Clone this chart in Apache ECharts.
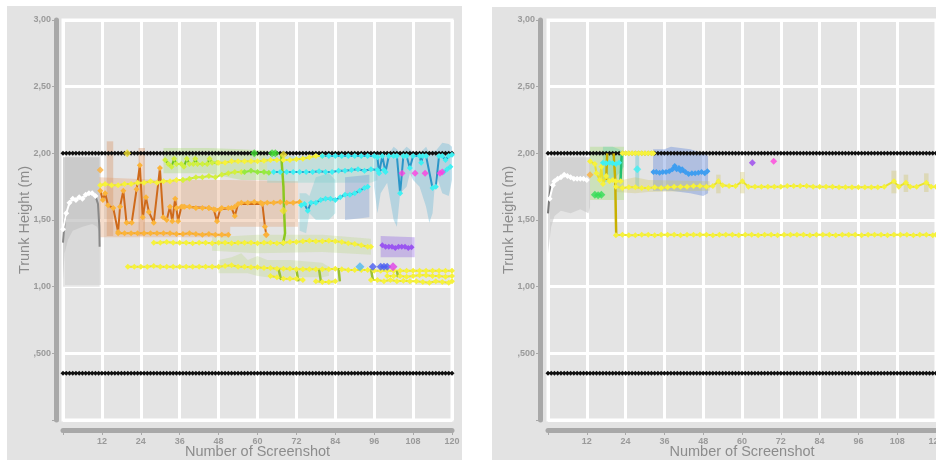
<!DOCTYPE html>
<html><head><meta charset="utf-8">
<script src="https://cdn.jsdelivr.net/npm/echarts@6/dist/echarts.min.js"></script>
<style>html,body{margin:0;padding:0;background:#fff}#c{width:936px;height:460px}</style>
</head><body><div id="c"></div>
<script>
// ---------- axis ticks ----------
const xTickValues = [12,24,36,48,60,72,84,96,108,120];
const xTickLabels = ['12','24','36','48','60','72','84','96','108','120'];
const yTickValues = [0.5,1,1.5,2,2.5,3];
const yTickLabels = [',500','1,00','1,50','2,00','2,50','3,00'];

// ---------- reference lines (x = screenshot index 0..120) ----------
const blackTopValues = [
2,2,2,2,2,2,2,2,2,2, 2,2,2,2,2,2,2,2,2,2, 2,2,2,2,2,2,2,2,2,2,
2,2,2,2,2,2,2,2,2,2, 2,2,2,2,2,2,2,2,2,2, 2,2,2,2,2,2,2,2,2,2,
2,2,2,2,2,2,2,2,2,2, 2,2,2,2,2,2,2,2,2,2, 2,2,2,2,2,2,2,2,2,2,
2,2,2,2,2,2,2,2,2,2, 2,2,2,2,2,2,2,2,2,2, 2,2,2,2,2,2,2,2,2,2, 2];
const blackLowValues = [
0.35,0.35,0.35,0.35,0.35,0.35,0.35,0.35,0.35,0.35, 0.35,0.35,0.35,0.35,0.35,0.35,0.35,0.35,0.35,0.35,
0.35,0.35,0.35,0.35,0.35,0.35,0.35,0.35,0.35,0.35, 0.35,0.35,0.35,0.35,0.35,0.35,0.35,0.35,0.35,0.35,
0.35,0.35,0.35,0.35,0.35,0.35,0.35,0.35,0.35,0.35, 0.35,0.35,0.35,0.35,0.35,0.35,0.35,0.35,0.35,0.35,
0.35,0.35,0.35,0.35,0.35,0.35,0.35,0.35,0.35,0.35, 0.35,0.35,0.35,0.35,0.35,0.35,0.35,0.35,0.35,0.35,
0.35,0.35,0.35,0.35,0.35,0.35,0.35,0.35,0.35,0.35, 0.35,0.35,0.35,0.35,0.35,0.35,0.35,0.35,0.35,0.35,
0.35,0.35,0.35,0.35,0.35,0.35,0.35,0.35,0.35,0.35, 0.35,0.35,0.35,0.35,0.35,0.35,0.35,0.35,0.35,0.35, 0.35];

// ---------- LEFT panel: bands [n, low, high] ----------
const L_grayBandLight = [[0,1.0,1.97],[11.3,1.0,1.97]];
const L_grayBandDark = [[0,1.05,1.97],[0.5,1.25,1.97],[1.5,1.35,1.97],[3,1.42,1.97],[6,1.45,1.97],[9,1.47,1.97],[10.5,1.45,1.97],[11.3,1.40,1.97]];
const L_peachBand = [[11.2,1.37,1.82],[30,1.37,1.80],[51.5,1.37,1.80],[51.6,1.45,1.80],[72.5,1.45,1.79]];
const L_peachSpike1 = [[13.5,1.38,2.09],[15.5,1.38,2.09]];
const L_peachSpike2 = [[23.3,1.38,2.04],[25.3,1.38,2.04]];
const L_greenBand = [[31,1.85,2.04],[45,1.85,2.04],[55,1.80,2.03],[63,1.80,2.02]];
const L_tealBand = [[63,1.78,1.98],[95,1.78,1.98],[97,1.80,1.96]];
const L_tealBand2 = [[73,1.42,1.70],[75,1.40,1.70],[76,1.55,1.68],[78,1.50,1.82],[82,1.50,1.85],[84,1.55,1.80]];
const L_steelBand = [[87,1.50,1.82],[94.5,1.52,1.84]];
const L_blueBand = [[96,1.75,2.0],[97,1.55,2.02],[98,1.70,2.0],[100,1.78,1.98],[102,1.50,2.05],[103,1.45,2.03],[104,1.70,2.0],[106,1.75,2.05],[107,1.85,2.03],[108,1.80,2.0],[110,1.75,2.0],[112,1.60,2.05],[113,1.48,2.0],[114,1.55,2.02],[115,1.85,2.02],[117,1.70,2.08],[119,1.68,2.07],[120,1.80,2.05]];
const L_band133 = [[46,1.27,1.37],[60,1.25,1.39],[80,1.26,1.39],[95,1.24,1.36]];
const L_band115 = [[48,1.10,1.20],[52,1.10,1.22],[55,1.10,1.25],[57,1.10,1.20],[60,1.08,1.23],[63,1.07,1.20],[70,1.07,1.20],[80,1.07,1.18],[82,1.08,1.15]];
const L_purpleBand = [[98,1.22,1.38],[108.5,1.22,1.37]];

// ---------- LEFT panel: lines [n, value] ----------
const L_white = [[0,1.43],[1,1.55],[2,1.63],[3,1.66],[4,1.65],[5,1.67],[6,1.66],[7,1.69],[8,1.70],[9,1.70],[10,1.68]];
const L_grayStart = [[0,1.33],[0.5,1.49],[1,1.55]];
const L_grayEnd = [[10,1.68],[10.8,1.62],[11.2,1.45],[11.3,1.30]];
const L_orangeZig = [[11.5,1.72],[12.3,1.65],[13,1.70],[13.9,1.61],[15.5,1.59],[17,1.41],[17.6,1.60],[18.6,1.72],[19.6,1.48],[21.2,1.48],[22.7,1.73],[23.7,1.91],[24.6,1.52],[25.6,1.67],[26.5,1.56],[28,1.48],[29.9,1.89],[30.9,1.52],[32,1.50],[33,1.60],[33.7,1.49],[34.6,1.66],[35.5,1.49],[36.5,1.60],[37.5,1.60],[45,1.59],[46.5,1.58],[47.5,1.49],[48.5,1.58],[52,1.59],[53,1.53],[54,1.62],[61.5,1.62],[62.3,1.45],[62.7,1.39]];
const L_amber16 = [[35,1.59],[37,1.60],[39,1.60],[41,1.59],[43,1.59],[45,1.59],[47,1.575],[49,1.59],[51,1.59],[53,1.60],[55,1.63],[57,1.63],[59,1.635],[61,1.63],[63,1.63],[65,1.63],[67,1.635],[69,1.63],[71,1.63],[73,1.635]];
const L_amberDots = [[11.5,1.875],[62.7,1.39]];
const L_amber140 = [[17,1.40],[19,1.40],[21,1.40],[23,1.40],[25,1.40],[27,1.40],[29,1.40],[31,1.40],[33,1.40],[35,1.395],[37,1.395],[39,1.40],[41,1.395],[43,1.39],[45,1.395],[47,1.39],[49,1.39],[51,1.39]];
const L_yellow177 = [[11.5,1.76],[13,1.77],[15,1.76],[17,1.76],[19,1.77],[21,1.77],[23,1.78],[25,1.78],[27,1.79],[29,1.78],[31,1.79],[33,1.79],[35,1.80],[37,1.80]];
const L_ygreen182 = [[37,1.80],[39,1.81],[41,1.82],[43,1.82],[45,1.83],[47,1.82],[49,1.84],[51,1.85],[53,1.86],[55,1.86]];
const L_green186 = [[56,1.86],[58,1.87],[60,1.86],[62,1.86],[63.5,1.855]];
const L_cyan186 = [[65,1.86],[67,1.86],[69,1.86],[71,1.86],[73,1.86],[75,1.86],[77,1.86],[79,1.865],[81,1.86],[83,1.86],[85,1.87],[87,1.87],[89,1.875],[91,1.88],[93,1.87],[95,1.88],[97,1.875],[99,1.875]];
const L_cyanLow = [[73.5,1.61],[74.5,1.62],[75.5,1.57],[76.5,1.63],[78,1.63],[79.5,1.65],[81,1.66],[82.5,1.66],[84,1.65],[85.5,1.67],[87,1.69],[88.5,1.69],[90,1.70],[91.5,1.72],[93,1.74],[94,1.75]];
const L_magenta = [[104.6,1.85],[108.6,1.85],[111.7,1.85],[116.3,1.85],[117,1.86]];
const L_cyanEnd = [[117.5,1.86],[118.5,1.88],[119.5,1.90]];
const L_topGreen = [[31.5,1.95],[32.5,1.92],[33.5,1.90],[34.3,1.96],[35,1.92],[36.5,1.92],[37.3,1.90],[38.2,1.96],[39,1.92],[40.2,1.92],[40.8,1.96],[41.5,1.92],[43,1.92],[44.5,1.92],[45.2,1.96],[46,1.93],[47.5,1.93]];
const L_topYellow = [[48,1.93],[50,1.93],[52,1.94],[54,1.94],[56,1.94],[58,1.94],[60,1.94],[62,1.945],[64,1.95],[66,1.95],[68,1.95],[70,1.95],[72,1.955],[74,1.96],[76,1.97],[78,1.98],[80,1.98]];
const L_greenDots = [[59,2.0],[64.5,2.0],[65.5,2.0]];
const L_yellowDots = [[19.8,2.0],[68,1.99],[68,1.57]];
const L_topCyan = [[80,1.98],[82,1.98],[84,1.98],[86,1.98],[88,1.98],[90,1.98],[92,1.98],[94,1.98],[96,1.98],[97,1.97],[97.5,1.85],[98.5,1.98],[99.5,1.86],[100.5,1.98],[102,1.98],[103,1.98],[104,1.70],[105,1.98],[106,1.98],[107,1.89],[108,1.98],[110,1.98],[110.5,1.93],[111,1.98],[112,1.98],[114,1.74],[115,1.75],[116,1.98],[117,1.98],[118,1.95],[119,1.98],[120,1.99]];
const L_greenVertical = [[67.3,1.99],[68,1.75],[68.2,1.57],[68.5,1.40],[67.8,1.31]];
const L_yellow133 = [[28,1.33],[30,1.33],[32,1.335],[34,1.33],[36,1.33],[38,1.33],[40,1.325],[42,1.33],[44,1.33],[46,1.325],[48,1.33],[50,1.33],[52,1.325],[54,1.33],[56,1.33],[58,1.33],[60,1.325],[62,1.33],[64,1.33],[66,1.325],[68,1.33],[70,1.335],[72,1.335],[74,1.34],[76,1.345],[78,1.34],[80,1.34],[82,1.345],[84,1.34],[86,1.335],[88,1.325],[90,1.32],[92,1.31],[94,1.30],[95,1.30]];
const L_purple130 = [[98.5,1.31],[99.5,1.30],[100.5,1.30],[101.5,1.30],[102.5,1.29],[103.5,1.30],[104.5,1.30],[105.5,1.30],[106.5,1.29],[107.5,1.295]];
const L_yellow115 = [[20,1.15],[22,1.15],[24,1.15],[26,1.15],[28,1.155],[30,1.15],[32,1.15],[34,1.15],[36,1.15],[38,1.15],[40,1.15],[42,1.15],[44,1.15],[46,1.15],[48,1.15],[50,1.155],[52,1.16],[54,1.15],[56,1.15],[58,1.145],[60,1.145],[62,1.14],[64,1.14],[66,1.135],[68,1.135],[70,1.135],[72,1.13],[74,1.13],[76,1.13],[78,1.13],[80,1.13],[82,1.13],[84,1.135],[86,1.13],[88,1.125],[90,1.125],[92,1.125],[94,1.125],[96,1.12],[98,1.12],[100,1.12],[102,1.12],[104,1.12],[106,1.12],[108,1.12],[110,1.12],[112,1.12],[114,1.12],[116,1.12],[118,1.12],[120,1.12]];
const L_yellowLowA = [[64,1.08],[66,1.07],[68,1.06],[70,1.06],[72,1.06],[74,1.05]];
const L_yellowLowB = [[78,1.04],[80,1.035],[82,1.035],[84,1.04]];
const L_yellowLowC = [[95,1.05],[97,1.05],[99,1.04],[101,1.05],[103,1.04],[105,1.045],[107,1.04],[109,1.04],[111,1.035],[113,1.03],[115,1.04],[117,1.035],[119,1.03],[120,1.04]];
const L_yellowLowD = [[100,1.08],[102,1.08],[104,1.08],[106,1.075],[108,1.08],[110,1.085],[112,1.085],[114,1.08],[116,1.08],[118,1.075],[120,1.08]];
const L_oliveConnectors = [
  [[66.5,1.13],[67.3,1.05]], [[72,1.13],[72.6,1.04]], [[79,1.13],[79.6,1.03]],
  [[85,1.14],[85.4,1.04]], [[95,1.13],[95.6,1.05]], [[103,1.12],[103.4,1.07]]];
const L_dotLightBlue = [[91.6,1.15]];
const L_dotBlue = [[95.6,1.15],[98,1.15],[99,1.15],[100,1.15]];
const L_dotMagenta = [[101.8,1.15]];

// ---------- RIGHT panel ----------
const R_grayBand = [[0,1.25,1.97],[0.5,1.35,1.97],[1,1.45,1.97],[2,1.53,1.97],[4,1.57,1.97],[7,1.55,1.97],[10,1.58,1.97],[12.5,1.55,1.97],[13,1.60,1.97]];
const R_greenBand = [[13,1.65,2.05],[23.5,1.65,2.05]];
const R_tealBand = [[17,1.78,2.05],[20,1.80,2.05],[22,1.85,2.03],[23.5,1.90,2.0]];
const R_cyanSpike = [[27,1.75,2.0],[28.2,1.75,2.0]];
const R_blueBand = [[32.5,1.72,2.03],[36,1.72,2.03],[38,1.72,2.05],[44,1.70,2.03],[48,1.68,2.0],[49.5,1.70,1.98]];
const R_oliveBand = [[21,1.71,1.79],[27,1.70,1.82],[31,1.71,1.80],[50,1.72,1.79]];
const R_spike1 = [[52,1.70,1.84],[53.4,1.70,1.84]];
const R_spike2 = [[59.4,1.70,1.86],[60.8,1.70,1.86]];
const R_spike3 = [[106.2,1.70,1.87],[107.8,1.70,1.87]];
const R_spike4 = [[110,1.71,1.84],[111.4,1.71,1.84]];
const R_spike5 = [[116.3,1.71,1.85],[117.7,1.71,1.85]];

const R_white = [[0.5,1.66],[1.5,1.76],[2,1.79],[3,1.81],[4,1.82],[5,1.84],[6,1.83],[7,1.82],[8,1.81],[9,1.81],[10,1.81],[11,1.81],[12,1.80]];
const R_grayStart = [[0,1.55],[0.3,1.64],[0.8,1.76]];
const R_yellowPre = [[13,1.94],[14.5,1.92],[15,1.85],[16,1.80],[16.5,1.90],[17,1.77],[18,1.83],[19,1.79],[20,1.80],[21,1.79],[22.5,1.79]];
const R_amberDot = [[13,1.84]];
const R_oliveA = [[18.3,2.0],[18.0,1.80]];
const R_oliveB = [[20.3,2.0],[20.8,1.80],[21,1.5],[21.1,1.39]];
const R_greenLine = [[22.8,2.0],[22.4,1.78]];
const R_cyan = [[17,1.93],[18,1.925],[19,1.93],[20,1.925],[21,1.92],[22,1.93]];
const R_cyanDot = [[27.6,1.88]];
const R_greenDots = [[14.5,1.69],[15.5,1.685],[16.5,1.69]];
const R_yellowTop = [[23,2.0],[24,2.0],[25,2.0],[26,2.0],[27,2.0],[28,2.0],[29,2.0],[30,2.0],[31,2.0],[32,2.0],[32.6,2.0]];
const R_blue = [[32.6,1.86],[33.5,1.86],[34.5,1.855],[35.5,1.86],[36.5,1.86],[37.5,1.865],[38.5,1.88],[39.2,1.905],[39.8,1.88],[40.5,1.89],[41,1.87],[41.5,1.88],[42.5,1.86],[43.5,1.845],[44.5,1.85],[45.5,1.85],[46.5,1.855],[47.5,1.86],[48.5,1.85],[49.3,1.865]];
const R_yellow175 = [[21,1.75],[23,1.74],[25,1.745],[27,1.745],[29,1.74],[31,1.74],[33,1.745],[35,1.74],[37,1.745],[39,1.75],[41,1.75],[43,1.75],[45,1.755],[47,1.755],[49,1.75],[51,1.755],[52.7,1.79],[54,1.76],[56,1.755],[58,1.755],[60.1,1.79],[62,1.75],[64,1.75],[66,1.75],[68,1.75],[70,1.75],[72,1.75],[74,1.755],[76,1.755],[78,1.755],[80,1.755],[82,1.75],[84,1.75],[86,1.75],[88,1.75],[90,1.745],[92,1.745],[94,1.745],[96,1.745],[98,1.745],[100,1.745],[102,1.745],[104,1.75],[107,1.79],[108.5,1.75],[110.7,1.78],[112,1.75],[114,1.75],[117,1.78],[118.5,1.75],[120,1.75]];
const R_yellow138 = [[21,1.385],[23,1.39],[25,1.385],[27,1.385],[29,1.39],[31,1.39],[33,1.385],[35,1.39],[37,1.39],[39,1.39],[41,1.385],[43,1.39],[45,1.39],[47,1.39],[49,1.39],[51,1.385],[53,1.39],[55,1.39],[57,1.39],[59,1.385],[61,1.39],[63,1.39],[65,1.385],[67,1.39],[69,1.39],[71,1.385],[73,1.39],[75,1.39],[77,1.39],[79,1.39],[81,1.385],[83,1.39],[85,1.39],[87,1.39],[89,1.385],[91,1.39],[93,1.39],[95,1.39],[97,1.385],[99,1.39],[101,1.39],[103,1.39],[105,1.385],[107,1.39],[109,1.39],[111,1.39],[113,1.385],[115,1.39],[117,1.39],[119,1.385],[120,1.39]];
const R_purpleDot = [[63.2,1.93]];
const R_magentaDot = [[69.8,1.94]];

// ---------- build ----------
const FONT = 'Liberation Sans';
function band(data, fill, g, z) {
  return { type: 'custom', xAxisIndex: g, yAxisIndex: g, data: data, silent: true, z: z || 1,
    clip: true,
    renderItem: function (params, api) {
      if (params.dataIndex !== 0) return null;
      const top = [], bot = [];
      for (const d of data) { top.push(api.coord([d[0], d[2]])); bot.unshift(api.coord([d[0], d[1]])); }
      return { type: 'polygon', shape: { points: top.concat(bot) }, style: { fill: fill } };
    } };
}
function line(data, lineColor, symColor, g, o) {
  o = o || {};
  return { type: 'line', xAxisIndex: g, yAxisIndex: g, data: data, silent: true,
    symbol: o.noSymbol ? 'none' : 'diamond', symbolSize: o.size || 6, showAllSymbol: true,
    lineStyle: { color: lineColor, width: o.width || 2 },
    itemStyle: { color: symColor }, z: o.z || 3 };
}
function dots(data, color, g, size) {
  return { type: 'scatter', xAxisIndex: g, yAxisIndex: g, data: data, silent: true,
    symbol: 'diamond', symbolSize: size || 7, itemStyle: { color: color }, z: 5 };
}
function idx(values) { return values.map((v, i) => [i, v]); }

const YEL = '#f6f23c', YELL = '#e9e22e';
const series = [];
for (const g of [0, 1]) {
  series.push(line(idx(blackTopValues), '#111', '#111', g, { size: 5, width: 1.5, z: 2 }));
  series.push(line(idx(blackLowValues), '#111', '#111', g, { size: 5, width: 1.5, z: 2 }));
}
// left bands
series.push(band(L_grayBandLight, 'rgba(205,205,205,0.5)', 0));
series.push(band(L_grayBandDark, 'rgba(180,180,180,0.4)', 0));
series.push(band(L_peachBand, 'rgba(228,165,120,0.38)', 0));
series.push(band(L_peachSpike1, 'rgba(215,140,90,0.35)', 0));
series.push(band(L_peachSpike2, 'rgba(215,140,90,0.35)', 0));
series.push(band(L_greenBand, 'rgba(165,220,110,0.35)', 0));
series.push(band(L_tealBand, 'rgba(120,210,200,0.30)', 0));
series.push(band(L_tealBand2, 'rgba(110,200,210,0.35)', 0));
series.push(band(L_steelBand, 'rgba(110,150,210,0.35)', 0));
series.push(band(L_blueBand, 'rgba(110,185,215,0.40)', 0));
series.push(band(L_band133, 'rgba(185,215,130,0.30)', 0));
series.push(band(L_band115, 'rgba(185,215,130,0.30)', 0));
series.push(band(L_purpleBand, 'rgba(150,110,225,0.40)', 0));
// left lines
series.push(line(L_grayStart, '#888', '#888', 0, { noSymbol: true }));
series.push(line(L_grayEnd, '#888', '#888', 0, { noSymbol: true }));
series.push(line(L_white, '#fff', '#fff', 0));
series.push(line(L_orangeZig, '#cf6a1a', '#fbb43a', 0));
series.push(line(L_amber140, '#f5a623', '#fbb43a', 0));
series.push(line(L_amber16, '#f5a623', '#fbb43a', 0));
series.push(dots(L_amberDots, '#fbb03b', 0, 7));
series.push(line(L_yellow177, YELL, YEL, 0));
series.push(line(L_ygreen182, '#c9e83a', '#d3f03e', 0));
series.push(line(L_green186, '#8fe03a', '#96ea40', 0));
series.push(line(L_cyan186, '#2a96c8', '#3ff0f2', 0));
series.push(line(L_cyanLow, '#2a96c8', '#3ff0f2', 0));
series.push(dots(L_magenta, '#ff3fe0', 0, 7));
series.push(line(L_cyanEnd, '#2a96c8', '#3ff0f2', 0));
series.push(line(L_topGreen, '#6cc420', '#d0f040', 0));
series.push(line(L_topYellow, YELL, YEL, 0));
series.push(line(L_topCyan, '#2a96c8', '#3ff0f2', 0, { z: 3 }));
series.push(line(L_greenVertical, '#8cc820', '#8cc820', 0, { noSymbol: true, width: 2.5 }));
series.push(dots(L_greenDots, '#44dd33', 0, 8));
series.push(dots(L_yellowDots, '#f0e030', 0, 8));
series.push(line(L_yellow133, YELL, YEL, 0));
series.push(line(L_purple130, '#8a44e6', '#9a55f0', 0));
series.push(line(L_yellow115, YELL, YEL, 0));
series.push(line(L_yellowLowA, YELL, YEL, 0));
series.push(line(L_yellowLowB, YELL, YEL, 0));
series.push(line(L_yellowLowC, YELL, YEL, 0));
series.push(line(L_yellowLowD, YELL, YEL, 0));
for (const seg of L_oliveConnectors) series.push(line(seg, '#9ac030', '#9ac030', 0, { noSymbol: true, width: 2.5 }));
series.push(dots(L_dotLightBlue, '#4fb8f0', 0, 9));
series.push(dots(L_dotBlue, '#4a5cf0', 0, 8));
series.push(dots(L_dotMagenta, '#e040e8', 0, 9));
// right bands
series.push(band(R_grayBand, 'rgba(195,195,195,0.55)', 1));
series.push(band(R_greenBand, 'rgba(160,220,110,0.35)', 1));
series.push(band(R_tealBand, 'rgba(90,210,170,0.35)', 1));
series.push(band(R_cyanSpike, 'rgba(110,200,210,0.45)', 1));
series.push(band(R_blueBand, 'rgba(105,140,220,0.42)', 1));
series.push(band(R_oliveBand, 'rgba(205,195,90,0.30)', 1));
for (const s of [R_spike1, R_spike2, R_spike3, R_spike4, R_spike5]) series.push(band(s, 'rgba(205,195,100,0.35)', 1));
// right lines
series.push(line(R_grayStart, '#777', '#777', 1, { noSymbol: true }));
series.push(line(R_white, '#fff', '#fff', 1));
series.push(line(R_oliveA, '#c8b000', '#c8b000', 1, { noSymbol: true, width: 2.5 }));
series.push(line(R_oliveB, '#c8b000', '#c8b000', 1, { noSymbol: true, width: 2.5 }));
series.push(line(R_greenLine, '#22c070', '#22c070', 1, { noSymbol: true, width: 2.5 }));
series.push(line(R_yellowPre, YELL, YEL, 1));
series.push(dots(R_amberDot, '#fbb03b', 1, 7));
series.push(line(R_cyan, '#2a96c8', '#3ff0f2', 1));
series.push(dots(R_cyanDot, '#3ff0f2', 1, 8));
series.push(dots(R_greenDots, '#33dd55', 1, 8));
series.push(line(R_yellowTop, YELL, YEL, 1));
series.push(line(R_blue, '#1f4fb0', '#3f9ef0', 1));
series.push(line(R_yellow175, YELL, YEL, 1));
series.push(line(R_yellow138, YELL, YEL, 1));
series.push(dots(R_purpleDot, '#9a44ee', 1, 7));
series.push(dots(R_magentaDot, '#ff44dd', 1, 7));

function xAxisFor(g) {
  return { type: 'value', gridIndex: g, min: 0, max: 120, interval: 12, offset: 10,
    axisLine: { show: true, onZero: false, lineStyle: { color: '#a8a8a8', width: 5 } },
    axisTick: { show: true, length: 5, lineStyle: { color: '#a8a8a8', width: 1 } },
    axisLabel: { color: '#9a9a9a', fontSize: 9, fontFamily: FONT, fontWeight: 'bold', margin: 7,
      formatter: v => { const i = xTickValues.indexOf(v); return i < 0 ? '' : xTickLabels[i]; } },
    splitLine: { show: true, lineStyle: { color: '#fff', width: 3 } },
    name: 'Number of Screenshot', nameLocation: 'middle', nameGap: 14, nameMoveOverlap: false,
    nameTextStyle: { color: '#8c8c8c', fontSize: 14.5, fontFamily: FONT } };
}
function yAxisFor(g, off) {
  return { type: 'value', gridIndex: g, min: 0, max: 3, interval: 0.5, offset: off,
    axisLine: { show: true, onZero: false, lineStyle: { color: '#a8a8a8', width: 5 } },
    axisTick: { show: true, length: 4, lineStyle: { color: '#a8a8a8', width: 1 } },
    axisLabel: { color: '#9a9a9a', fontSize: 9, fontFamily: FONT, fontWeight: 'bold', margin: 5,
      padding: [0, 0, 5, 0],
      formatter: v => { const i = yTickValues.indexOf(v); return i < 0 ? '' : yTickLabels[i]; } },
    splitLine: { show: true, lineStyle: { color: '#fff', width: 3 } },
    name: 'Trunk Height (m)', nameLocation: 'middle', nameGap: 24, nameMoveOverlap: false,
    nameTextStyle: { color: '#8c8c8c', fontSize: 14.5, fontFamily: FONT } };
}

const chart = echarts.init(document.getElementById('c'), null, { renderer: 'canvas' });
chart.setOption({
  animation: false,
  backgroundColor: '#ffffff',
  graphic: [
    { type: 'rect', z: -10, shape: { x: 7, y: 6, width: 455, height: 454 }, style: { fill: '#e3e3e3' } },
    { type: 'rect', z: -10, shape: { x: 492, y: 7, width: 444, height: 453 }, style: { fill: '#e3e3e3' } }
  ],
  grid: [
    { left: 63, top: 20, width: 389, height: 400, show: true, backgroundColor: '#e4e4e4', borderColor: '#ffffff', borderWidth: 3, outerBoundsMode: 'none', containLabel: false },
    { left: 548, top: 20, width: 388, height: 400, show: true, backgroundColor: '#e4e4e4', borderColor: '#ffffff', borderWidth: 3, outerBoundsMode: 'none', containLabel: false }
  ],
  xAxis: [xAxisFor(0), xAxisFor(1)],
  yAxis: [yAxisFor(0, 7), yAxisFor(1, 8)],
  series: series
});
</script></body></html>
